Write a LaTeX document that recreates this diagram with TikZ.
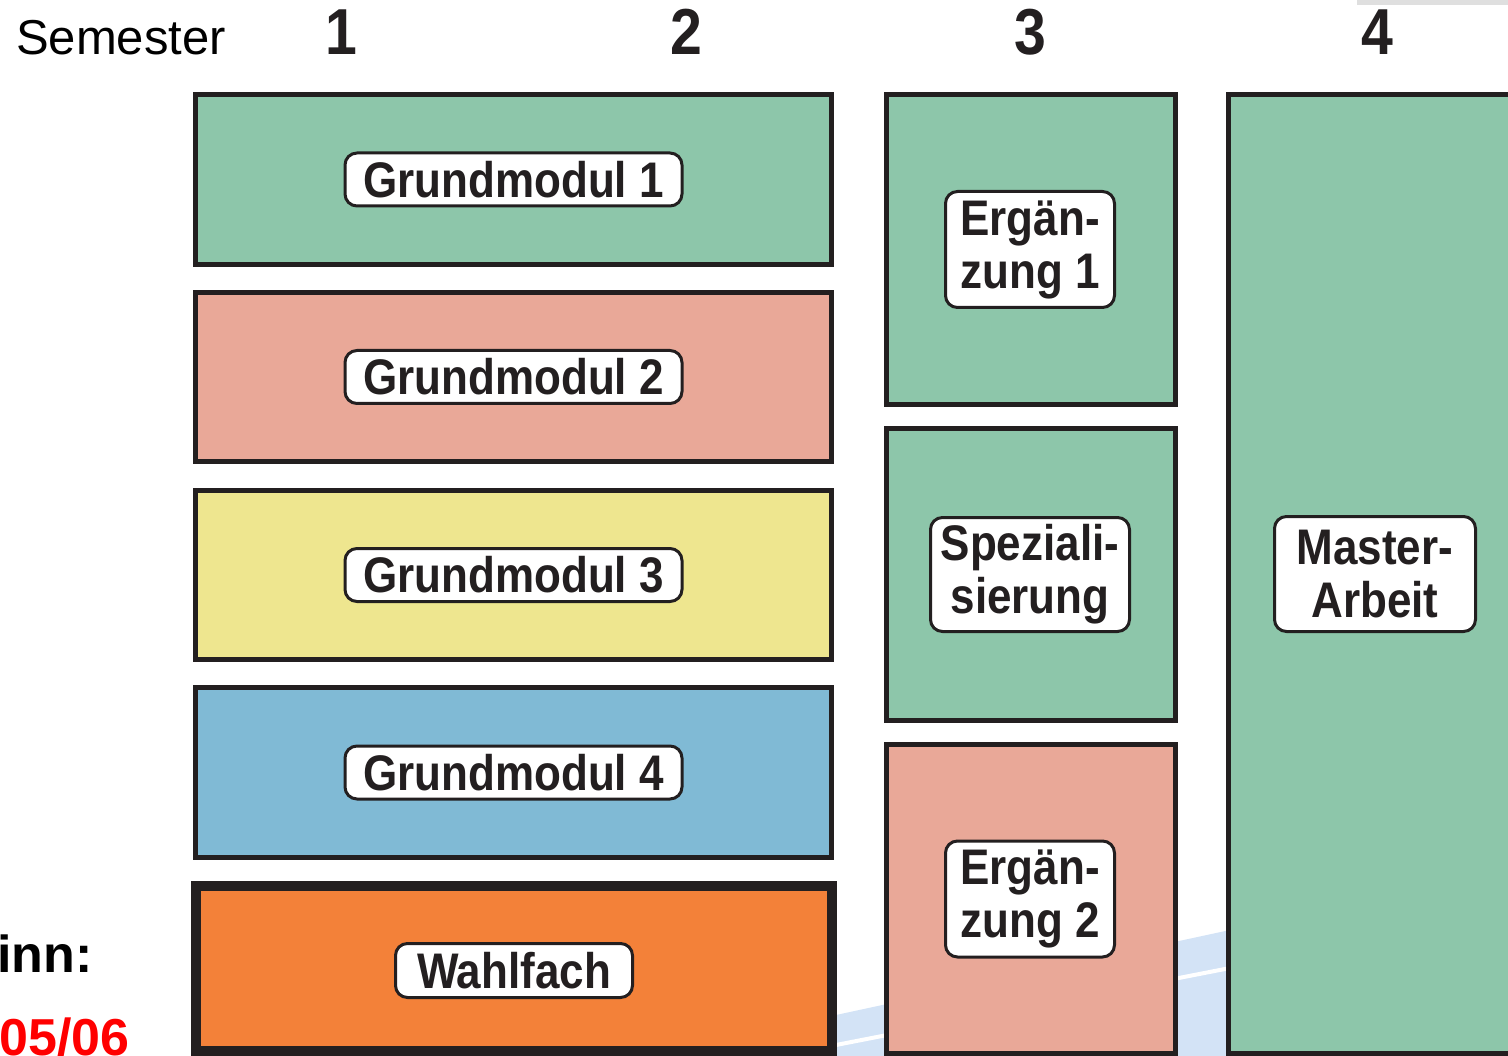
\documentclass[tikz,border=0pt]{standalone}
\usepackage{fontspec}
\setmainfont{Liberation Sans}
\newfontfamily\labfont[FakeStretch=0.88]{Liberation Sans}
\definecolor{bgreen}{HTML}{8DC6AA}
\definecolor{bsalmon}{HTML}{E9A898}
\definecolor{byellow}{HTML}{EEE68F}
\definecolor{bblue}{HTML}{80BAD5}
\definecolor{borange}{HTML}{F38139}
\definecolor{bline}{HTML}{231F20}
\definecolor{faintblue}{HTML}{D3E3F6}
\tikzset{
  modbox/.style={draw=bline, line width=5pt, inner sep=0pt, outer sep=0pt},
  lab/.style={draw=bline, fill=white, line width=3pt, rounded corners=12pt, inner sep=0pt,
    align=center, text=bline, font=\labfont\bfseries\fontsize{50}{53}\selectfont},
  num/.style={anchor=base, text=bline, font=\labfont\bfseries\fontsize{65}{70}\selectfont, inner sep=0pt}
}
\begin{document}
\begin{tikzpicture}[x=1pt,y=-1pt]
\useasboundingbox (0,0) rectangle (1508,1056);
\clip (0,0) rectangle (1508,1056);
% faint background shapes
\fill[faintblue] (836,1015) -- (1230,930) -- (1230,1056) -- (836,1056) -- cycle;
\draw[white, line width=4pt] (836,1045) -- (1230,968);
\fill[gray!25] (1357,0) rectangle (1508,5);
% header
\node[anchor=base west, inner sep=0pt, font=\fontsize{49}{52}\selectfont] (sem) at (16,55) {Semester};
\node[num] (n1) at (341,55) {1};
\node[num] (n2) at (686,55) {2};
\node[num] (n3) at (1030,55) {3};
\node[num] (n4) at (1377,55) {4};
% left fragments
\node[anchor=base east, inner sep=0pt, font=\bfseries\fontsize{52}{54}\selectfont] (beg) at (93,972) {inn:};
\node[anchor=base east, inner sep=0pt, text={rgb,255:red,255;green,0;blue,0}, font=\bfseries\fontsize{52}{54}\selectfont] (ws) at (130,1055) {05/06};
% Grundmodule
\node[modbox, fill=bgreen, minimum width=636, minimum height=170] (g1) at (513.5,179.5) {};
\node[modbox, fill=bsalmon, minimum width=636, minimum height=169] (g2) at (513.5,377) {};
\node[modbox, fill=byellow, minimum width=636, minimum height=169] (g3) at (513.5,575) {};
\node[modbox, fill=bblue, minimum width=636, minimum height=170] (g4) at (513.5,772.5) {};
\node[modbox, line width=10pt, fill=borange, minimum width=636, minimum height=165] (wf) at (514,968.5) {};
% column 3
\node[modbox, fill=bgreen, minimum width=289, minimum height=310] (e1) at (1031,249.5) {};
\node[modbox, fill=bgreen, minimum width=289, minimum height=292] (sp) at (1031,574.5) {};
\node[modbox, fill=bsalmon, minimum width=289, minimum height=309] (e2) at (1031,899) {};
% column 4
\node[modbox, fill=bgreen, minimum width=320, minimum height=959] (ma) at (1388.5,574) {};
% labels
\node[lab, minimum width=337, minimum height=53] (lg1) at (g1.center) {Grundmodul 1};
\node[lab, minimum width=337, minimum height=53] (lg2) at (g2.center) {Grundmodul 2};
\node[lab, minimum width=337, minimum height=53] (lg3) at (g3.center) {Grundmodul 3};
\node[lab, minimum width=337, minimum height=53] (lg4) at (g4.center) {Grundmodul 4};
\node[lab, minimum width=237, minimum height=54] (lwf) at ([yshift=-2]wf.center) {Wahlfach};
\node[lab, minimum width=169, minimum height=116] (le1) at ([xshift=-1]e1.center) {Ergän-\\zung 1};
\node[lab, minimum width=199, minimum height=114] (lsp) at ([xshift=-1]sp.center) {Speziali-\\sierung};
\node[lab, minimum width=169, minimum height=116] (le2) at ([xshift=-1]e2.center) {Ergän-\\zung 2};
\node[lab, minimum width=201, minimum height=115] (lma) at (1375,574) {Master-\\Arbeit};
\end{tikzpicture}
\end{document}
